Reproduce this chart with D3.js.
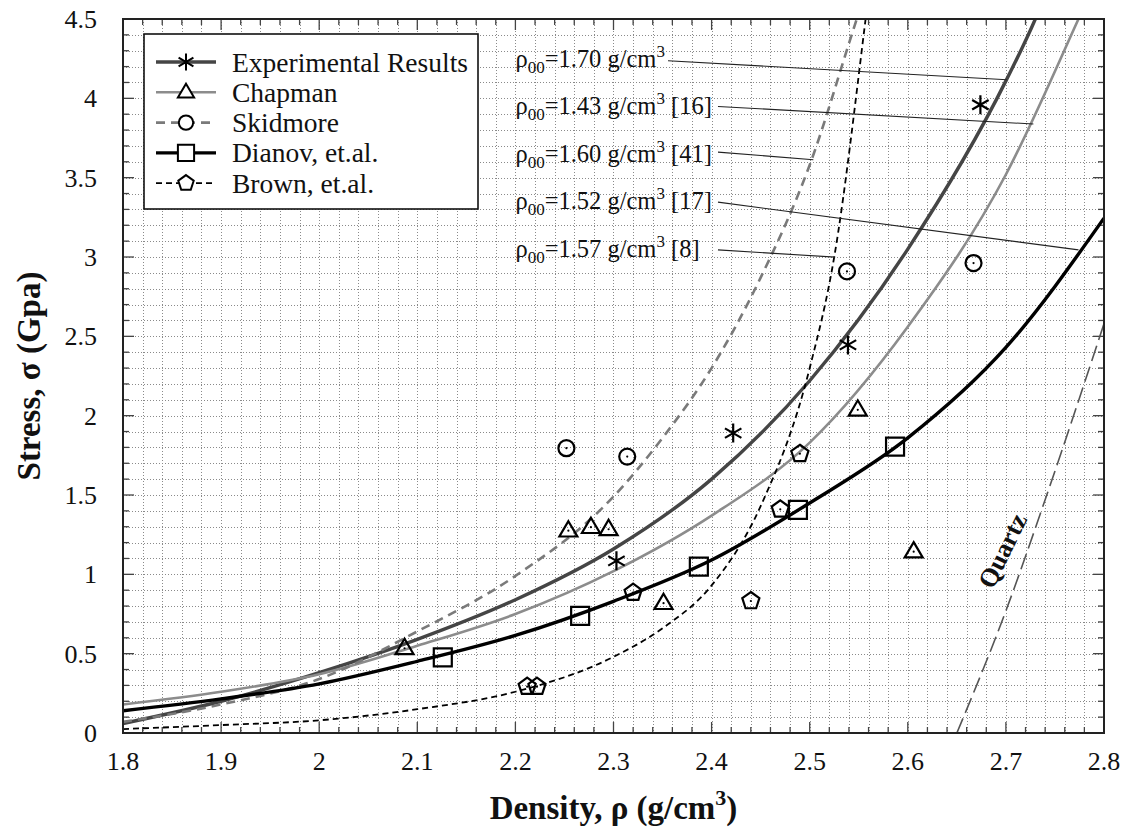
<!DOCTYPE html>
<html>
<head>
<meta charset="utf-8">
<script src="https://cdn.jsdelivr.net/npm/d3@7"></script>
<style>
  body { margin: 0; background: #fff; }
  svg { display: block; }
</style>
</head>
<body>
<svg id="chart" width="1126" height="835" font-family="'Liberation Serif', 'DejaVu Serif', serif"></svg>
<script>
// ---- axis ticks ----
const xTickValues = [1.8, 1.9, 2.0, 2.1, 2.2, 2.3, 2.4, 2.5, 2.6, 2.7, 2.8];
const xTickLabels = ["1.8", "1.9", "2", "2.1", "2.2", "2.3", "2.4", "2.5", "2.6", "2.7", "2.8"];
const yTickValues = [0, 0.5, 1, 1.5, 2, 2.5, 3, 3.5, 4, 4.5];
const yTickLabels = ["0", "0.5", "1", "1.5", "2", "2.5", "3", "3.5", "4", "4.5"];

// ---- fitted curves: [density, stress] ----
const experimentalCurve = [[1.8, 0.06], [1.9, 0.2], [2.0, 0.38], [2.1, 0.59], [2.2, 0.84], [2.3, 1.16], [2.4, 1.6], [2.5, 2.22], [2.6, 3.05], [2.7, 4.11], [2.73, 4.5], [2.74, 4.65]];
const chapmanCurve = [[1.8, 0.18], [1.9, 0.26], [2.0, 0.37], [2.1, 0.55], [2.2, 0.75], [2.3, 1.02], [2.4, 1.37], [2.5, 1.83], [2.6, 2.56], [2.7, 3.52], [2.774, 4.5], [2.785, 4.65]];
const skidmoreCurve = [[1.8, 0.07], [1.9, 0.18], [2.0, 0.34], [2.1, 0.64], [2.2, 0.99], [2.3, 1.49], [2.35, 1.86], [2.4, 2.3], [2.45, 2.87], [2.5, 3.58], [2.548, 4.5], [2.556, 4.65]];
const dianovCurve = [[1.8, 0.14], [1.9, 0.215], [2.0, 0.31], [2.1, 0.452], [2.2, 0.615], [2.3, 0.83], [2.4, 1.09], [2.5, 1.45], [2.6, 1.86], [2.7, 2.43], [2.8, 3.245]];
const brownCurve = [[1.8, 0.025], [1.9, 0.05], [2.0, 0.08], [2.1, 0.15], [2.2, 0.26], [2.3, 0.48], [2.35, 0.66], [2.4, 0.93], [2.45, 1.43], [2.5, 2.3], [2.525, 3.0], [2.557, 4.5], [2.56, 4.65]];
const quartzCurve = [[2.65, 0], [2.70, 0.77], [2.74, 1.47], [2.8, 2.58]];

// ---- measured points: [density, stress] ----
const experimentalPoints = [[2.303, 1.085], [2.422, 1.89], [2.539, 2.446], [2.674, 3.96]];
const chapmanPoints = [[2.087, 0.534], [2.254, 1.275], [2.277, 1.297], [2.295, 1.284], [2.351, 0.818], [2.549, 2.037], [2.606, 1.143]];
const skidmorePoints = [[2.252, 1.795], [2.314, 1.742], [2.538, 2.909], [2.667, 2.962]];
const dianovPoints = [[2.126, 0.477], [2.266, 0.738], [2.387, 1.049], [2.488, 1.406], [2.587, 1.805]];
const brownPoints = [[2.212, 0.292], [2.222, 0.292], [2.320, 0.885], [2.440, 0.832], [2.470, 1.41], [2.490, 1.76]];

// ---- legend ----
const legendNames = ["Experimental Results", "Chapman", "Skidmore", "Dianov, et.al.", "Brown, et.al."];

// ---- initial-density annotations ----
const annoDensity = ["1.70", "1.43", "1.60", "1.52", "1.57"];
const annoRef = ["", " [16]", " [41]", " [17]", " [8]"];
const annoTextStress = [4.2, 3.9, 3.6, 3.3, 3.0];
const annoLineStart = [[2.3556, 4.237], [2.4065, 3.949], [2.4065, 3.661], [2.4065, 3.346], [2.4065, 3.045]];
const annoLineEnd = [[2.701, 4.117], [2.728, 3.838], [2.5037, 3.613], [2.774, 3.045], [2.5259, 2.999]];

const svg = d3.select("#chart");
const plotLeft = 123, plotRight = 1104, plotTop = 19, plotBottom = 733;
const x = d3.scaleLinear().domain([1.8, 2.8]).range([plotLeft, plotRight]);
const y = d3.scaleLinear().domain([0, 4.5]).range([plotBottom, plotTop]);

// clip region for curves
svg.append("defs").append("clipPath").attr("id", "plotClip")
  .append("rect").attr("x", plotLeft).attr("y", plotTop)
  .attr("width", plotRight - plotLeft).attr("height", plotBottom - plotTop);

// ---- dotted grid ----
const xMinor = d3.range(1, 50).map(i => 1.8 + i * 0.02);
const yMinor = d3.range(1, 45).map(i => i * 0.1);
const grid = svg.append("g").attr("stroke", "#8a8a8a").attr("stroke-width", 1).attr("stroke-dasharray", "1,2");
grid.selectAll("line.v").data(xMinor).join("line").attr("class", "v")
  .attr("x1", d => Math.round(x(d)) + 0.5).attr("x2", d => Math.round(x(d)) + 0.5)
  .attr("y1", plotTop).attr("y2", plotBottom);
grid.selectAll("line.h").data(yMinor).join("line").attr("class", "h")
  .attr("y1", d => Math.round(y(d)) + 0.5).attr("y2", d => Math.round(y(d)) + 0.5)
  .attr("x1", plotLeft).attr("x2", plotRight);

// ---- ticks on all four sides (inward) ----
const tickG = svg.append("g").attr("stroke", "#444").attr("stroke-width", 1.3);
const isMajorX = d => xTickValues.some(v => Math.abs(v - d) < 1e-6);
const isMajorY = d => yTickValues.some(v => Math.abs(v - d) < 1e-6);
const allX = d3.range(0, 51).map(i => 1.8 + i * 0.02);
const allY = d3.range(0, 46).map(i => i * 0.1);
allX.forEach(d => {
  const len = isMajorX(d) ? 11 : 6;
  tickG.append("line").attr("x1", x(d)).attr("x2", x(d)).attr("y1", plotBottom).attr("y2", plotBottom - len);
  tickG.append("line").attr("x1", x(d)).attr("x2", x(d)).attr("y1", plotTop).attr("y2", plotTop + len);
});
allY.forEach(d => {
  const len = isMajorY(d) ? 11 : 6;
  tickG.append("line").attr("y1", y(d)).attr("y2", y(d)).attr("x1", plotLeft).attr("x2", plotLeft + len);
  tickG.append("line").attr("y1", y(d)).attr("y2", y(d)).attr("x1", plotRight).attr("x2", plotRight - len);
});

// ---- tick labels ----
svg.append("g").selectAll("text").data(xTickValues).join("text")
  .attr("x", d => x(d)).attr("y", 770).attr("text-anchor", "middle").attr("fill", "#111")
  .attr("font-size", 26).text((d, i) => xTickLabels[i]);
svg.append("g").selectAll("text").data(yTickValues).join("text")
  .attr("x", 97).attr("y", d => y(d) + 9).attr("text-anchor", "end").attr("fill", "#111")
  .attr("font-size", 26).text((d, i) => yTickLabels[i]);

// ---- axis titles ----
const xTitle = svg.append("text").attr("x", (plotLeft + plotRight) / 2).attr("y", 819)
  .attr("text-anchor", "middle").attr("font-size", 33).attr("font-weight", "bold").attr("fill", "#111");
xTitle.append("tspan").text("Density, ρ (g/cm");
xTitle.append("tspan").attr("font-size", 22).attr("dy", -14).text("3");
xTitle.append("tspan").attr("dy", 14).text(")");
svg.append("text").attr("transform", "translate(40,376) rotate(-90)")
  .attr("text-anchor", "middle").attr("font-size", 33).attr("font-weight", "bold").attr("fill", "#111")
  .text("Stress, σ (Gpa)");

// ---- curves ----
const line = d3.line().x(d => x(d[0])).y(d => y(d[1])).curve(d3.curveMonotoneX);
const curves = svg.append("g").attr("clip-path", "url(#plotClip)").attr("fill", "none");
const styles = [
  { data: experimentalCurve, stroke: "#454545", width: 3.4, dash: null },
  { data: chapmanCurve, stroke: "#8c8c8c", width: 2.6, dash: null },
  { data: skidmoreCurve, stroke: "#7a7a7a", width: 2.6, dash: "9,6" },
  { data: dianovCurve, stroke: "#000", width: 3.4, dash: null },
  { data: brownCurve, stroke: "#000", width: 1.8, dash: "6,4" }
];
styles.forEach(s => {
  curves.append("path").attr("d", line(s.data)).attr("stroke", s.stroke)
    .attr("stroke-width", s.width).attr("stroke-dasharray", s.dash);
});
curves.append("path").attr("d", line(quartzCurve)).attr("stroke", "#555")
  .attr("stroke-width", 1.6).attr("stroke-dasharray", "16,6");

svg.append("text").attr("transform", `translate(${x(2.699)},${y(1.141)}) rotate(-64)`)
  .attr("text-anchor", "middle").attr("dominant-baseline", "middle").attr("fill", "#111")
  .attr("font-size", 26).attr("font-weight", "bold").text("Quartz");

// ---- annotations ----
const anno = svg.append("g");
annoDensity.forEach((val, i) => {
  anno.append("line")
    .attr("x1", x(annoLineStart[i][0])).attr("y1", y(annoLineStart[i][1]))
    .attr("x2", x(annoLineEnd[i][0])).attr("y2", y(annoLineEnd[i][1]))
    .attr("stroke", "#222").attr("stroke-width", 1.1);
  const t = anno.append("text").attr("x", x(2.2)).attr("y", y(annoTextStress[i]))
    .attr("font-size", 24.5).attr("fill", "#111");
  t.append("tspan").text("ρ");
  t.append("tspan").attr("font-size", 17).attr("dy", 6).text("00");
  t.append("tspan").attr("dy", -6).text("=" + val + " g/cm");
  t.append("tspan").attr("font-size", 17).attr("dy", -10).text("3");
  t.append("tspan").attr("dy", 10).text(annoRef[i]);
});

// ---- markers ----
function markerPath(kind, r) {
  const p = d3.path();
  if (kind === "asterisk") {
    [90, 30, 150].forEach(a => {
      const rad = a * Math.PI / 180, dx = Math.cos(rad) * r, dy = Math.sin(rad) * r;
      p.moveTo(-dx, -dy); p.lineTo(dx, dy);
    });
  } else if (kind === "triangle") {
    const h = r * 1.7;
    p.moveTo(0, -h * 0.62); p.lineTo(r, h * 0.38); p.lineTo(-r, h * 0.38); p.closePath();
  } else if (kind === "circle") {
    p.arc(0, 0, r, 0, 2 * Math.PI);
  } else if (kind === "square") {
    p.rect(-r, -r, 2 * r, 2 * r);
  } else if (kind === "pentagon") {
    for (let k = 0; k < 5; k++) {
      const a = -Math.PI / 2 + k * 2 * Math.PI / 5;
      const px = Math.cos(a) * r, py = Math.sin(a) * r;
      if (k === 0) p.moveTo(px, py); else p.lineTo(px, py);
    }
    p.closePath();
  }
  return p.toString();
}
const markerSets = [
  { pts: experimentalPoints, kind: "asterisk", r: 9.5, dot: false },
  { pts: chapmanPoints, kind: "triangle", r: 9, dot: true },
  { pts: skidmorePoints, kind: "circle", r: 8, dot: true },
  { pts: dianovPoints, kind: "square", r: 9, dot: false },
  { pts: brownPoints, kind: "pentagon", r: 9, dot: true }
];
const mg = svg.append("g");
markerSets.forEach(m => {
  m.pts.forEach(d => {
    const g = mg.append("g").attr("transform", `translate(${x(d[0])},${y(d[1])})`);
    g.append("path").attr("d", markerPath(m.kind, m.r)).attr("fill", "none")
      .attr("stroke", "#000").attr("stroke-width", 2.2);
    if (m.dot) g.append("circle").attr("r", 1.1).attr("fill", "#000");
  });
});

// ---- legend ----
const lg = svg.append("g");
lg.append("rect").attr("x", 144).attr("y", 34).attr("width", 334).attr("height", 175)
  .attr("fill", "#fff").attr("stroke", "#111").attr("stroke-width", 1.6);
legendNames.forEach((name, i) => {
  const cy = 62 + i * 30.3;
  const s = styles[i], m = markerSets[i];
  lg.append("line").attr("x1", 156).attr("x2", 216).attr("y1", cy).attr("y2", cy)
    .attr("stroke", s.stroke).attr("stroke-width", s.width).attr("stroke-dasharray", s.dash);
  const g = lg.append("g").attr("transform", `translate(186,${cy})`);
  g.append("path").attr("d", markerPath(m.kind, m.r * 0.9)).attr("fill", m.kind === "asterisk" ? "none" : "#fff")
    .attr("stroke", "#000").attr("stroke-width", 2);
  lg.append("text").attr("x", 232).attr("y", cy + 9.5).attr("font-size", 27.5).attr("fill", "#111").text(name);
});

// ---- frame ----
svg.append("rect").attr("x", plotLeft).attr("y", plotTop)
  .attr("width", plotRight - plotLeft).attr("height", plotBottom - plotTop)
  .attr("fill", "none").attr("stroke", "#222").attr("stroke-width", 2);
</script>
</body>
</html>
